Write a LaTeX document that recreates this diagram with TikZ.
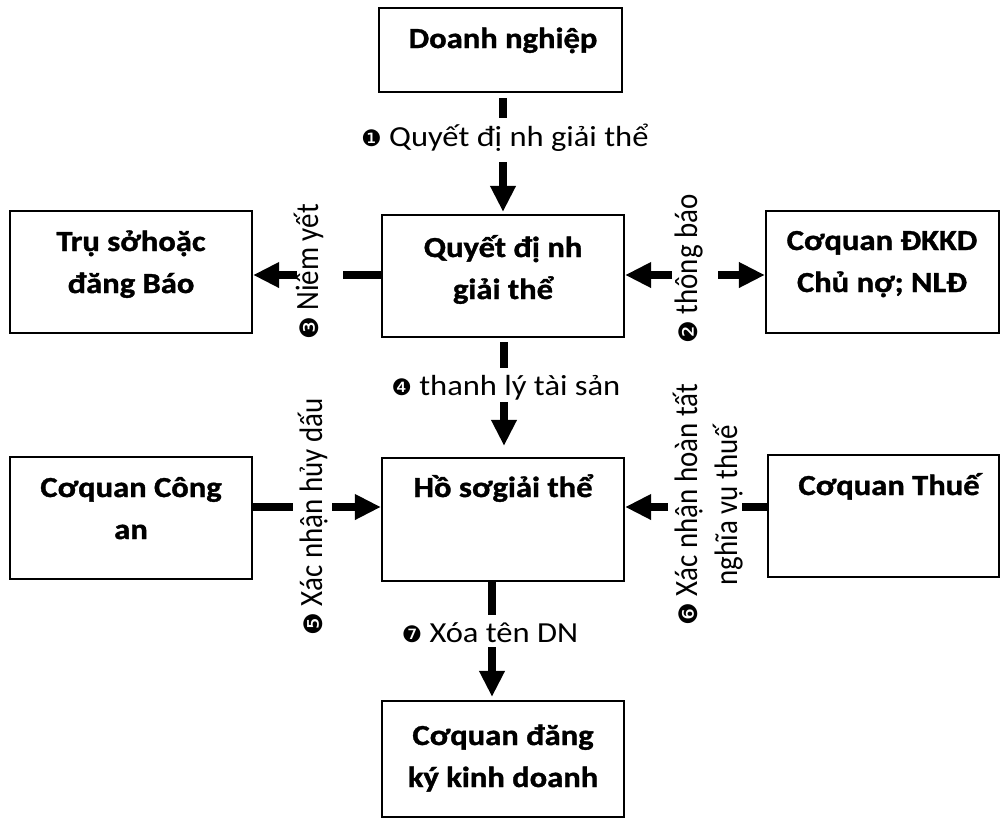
\documentclass[tikz,border=0pt]{standalone}
\usepackage{fontspec}
\setmainfont{Carlito}[FakeStretch=1.12,BoldFeatures={FakeBold=1.2}]
\newfontfamily\rotfamily{Carlito}[FakeStretch=0.89]
\newfontfamily\dingfamily{DejaVu Sans}

% circled step number
\newcommand\stepno[2][17]{{\dingfamily\fontsize{#1}{#1}\selectfont #2}}
% two centred lines, baseline on the first one
\newcommand\twolines[2]{\begin{tabular}[t]{@{}c@{}}#1\\#2\end{tabular}}

\usetikzlibrary{arrows.meta,fit,calc}
\tikzset{
  box/.style={draw, line width=1.6pt, inner sep=0pt},
  boxtext/.style={font=\fontsize{21.8}{31.5}\selectfont\bfseries, anchor=base, inner sep=0pt},
  hlabel/.style={font=\fontsize{21.8}{31.5}\selectfont, anchor=base, inner sep=0pt},
  vlabel/.style={font=\rotfamily\fontsize{24.4}{30}\selectfont, anchor=base, inner sep=0pt, rotate=90},
  seg/.style={line width=5.8pt},
  arr/.style={line width=5.8pt, -{Triangle[width=18pt,length=19.5pt]}},
}

\begin{document}
\begin{tikzpicture}[x=0.75pt,y=-0.75pt]
\fill[white] (0,0) rectangle (1000,819);
\useasboundingbox (0,0) rectangle (1000,819);

% boxes
\node[box, fit={(379,8) (622,92)}]    (DN) {};
\node[box, fit={(10,211) (252,333)}]  (TS) {};
\node[box, fit={(382,215) (624,337)}] (QD) {};
\node[box, fit={(766,211) (999,333)}] (DK) {};
\node[box, fit={(10,457) (252,579)}]  (CA) {};
\node[box, fit={(382,458) (624,581)}] (HS) {};
\node[box, fit={(768,455) (999,577)}] (TH) {};
\node[box, fit={(382,701) (624,817)}] (BK) {};

% box texts
\node[boxtext] (DNt) at (503,48)  {Doanh nghiệp};
\node[boxtext] (TSt) at (131,251) {\twolines{Trụ sởhoặc}{đăng Báo}};
\node[boxtext] (QDt) at (503,257) {\twolines{Quyết đị nh}{giải thể}};
\node[boxtext] (DKt) at (882,250) {\twolines{Cơquan ĐKKD}{Chủ nợ; NLĐ}};
\node[boxtext] (CAt) at (131,497) {\twolines{Cơquan Công}{an}};
\node[boxtext] (HSt) at (503,497) {Hồ sơgiải thể};
\node[boxtext] (THt) at (889,495) {Cơquan Thuế};
\node[boxtext] (BKt) at (503,745) {\twolines{Cơquan đăng}{ký kinh doanh}};

% step labels
\node[hlabel] (L1) at (505,146) {\stepno{❶} Quyết đị nh giải thể};
\node[vlabel] (L2) at (697,269) {\stepno[19]{❷} thông báo};
\node[vlabel] (L3) at (318,272) {\stepno[19]{❸} Niêm yết};
\node[hlabel] (L4) at (506,395) {\stepno{❹} thanh lý tài sản};
\node[vlabel] (L5) at (322,517) {\stepno[19]{❺} Xác nhận hủy dấu};
\node[vlabel] (L6) at (697,505) {\twolines{\stepno[19]{❻} Xác nhận hoàn tất}{nghĩa vụ thuế}};
\node[hlabel] (L7) at (490,642) {\stepno{❼} Xóa tên DN};

% gap ends around the labels
\coordinate (a1) at (503,118); \coordinate (b1) at (503,162);
\coordinate (a2) at (672,275); \coordinate (b2) at (718,275);
\coordinate (a3) at (343,275); \coordinate (b3) at (297,275);
\coordinate (a4) at (504,368); \coordinate (b4) at (504,402);
\coordinate (a5) at (293,507); \coordinate (b5) at (332,507);
\coordinate (a6) at (742,507); \coordinate (b6) at (668,507);
\coordinate (a7) at (492,615); \coordinate (b7) at (492,647);

% connectors
\draw[seg] ($(DN.south -| a1)+(0,5)$) -- (a1);
\draw[arr] (b1) -- ($(QD.north -| b1)+(0,-2)$);

\draw[arr] (a2) -- (QD.east |- a2);
\draw[arr] (b2) -- (DK.west |- b2);

\draw[seg] (QD.west |- a3) -- (a3);
\draw[arr] (b3) -- (TS.east |- b3);

\draw[seg] ($(QD.south -| a4)+(0,4)$) -- (a4);
\draw[arr] (b4) -- ($(HS.north -| b4)+(0,-11)$);

\draw[seg] (CA.east |- a5) -- (a5);
\draw[arr] (b5) -- (HS.west |- b5);

\draw[seg] (TH.west |- a6) -- (a6);
\draw[arr] (b6) -- (HS.east |- b6);

\draw[seg] (HS.south -| a7) -- (a7);
\draw[arr] (b7) -- ($(BK.north -| b7)+(0,-3)$);
\end{tikzpicture}
\end{document}
